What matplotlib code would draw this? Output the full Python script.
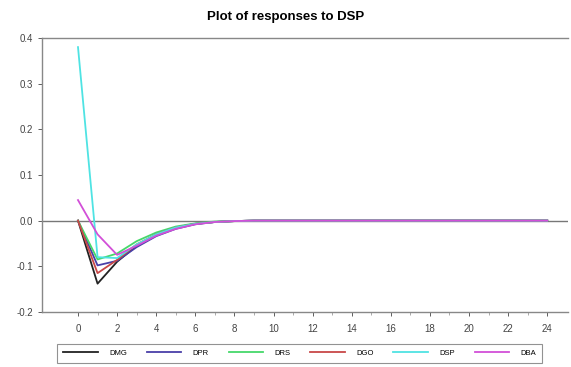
import numpy as np
import matplotlib
matplotlib.use("Agg")
import matplotlib.pyplot as plt

plt.rcParams['font.family'] = ['Liberation Sans Narrow', 'Liberation Sans', 'DejaVu Sans']

# impulse responses to a DSP shock, periods 0..24
periods = list(range(25))
tail = [0.0] * 16
DMG = [0.0, -0.138, -0.090, -0.055, -0.030, -0.015, -0.007, -0.003, -0.001] + tail
DPR = [0.0, -0.098, -0.088, -0.058, -0.034, -0.018, -0.008, -0.003, -0.001] + tail
DRS = [0.0, -0.085, -0.072, -0.045, -0.026, -0.013, -0.006, -0.002, -0.001] + tail
DGO = [0.0, -0.115, -0.086, -0.052, -0.030, -0.015, -0.007, -0.003, -0.001] + tail
DSP = [0.38, -0.080, -0.082, -0.052, -0.030, -0.015, -0.007, -0.003, -0.001] + tail
DBA = [0.045, -0.030, -0.075, -0.055, -0.033, -0.018, -0.008, -0.003, -0.001] + tail

series = [("DMG", DMG, "#222222"), ("DPR", DPR, "#4a3fa8"),
          ("DRS", DRS, "#45d86a"), ("DGO", DGO, "#c84848"),
          ("DSP", DSP, "#4fe3e3"), ("DBA", DBA, "#d24fd8")]

fig = plt.figure(figsize=(5.71, 3.67), dpi=100)
ax = fig.add_axes([0.0736, 0.150, 0.9214, 0.7465])

ax.axhline(0, color="#777777", lw=1.0, zorder=1)
for name, vals, col in series:
    ax.plot(periods, vals, color=col, lw=1.3, label=name, zorder=2)

ax.set_xlim(-1.84, 25.07)
ax.set_ylim(-0.2, 0.4)
ax.set_xticks(range(0, 25, 2))
ax.set_xticks(range(0, 25), minor=True)
ax.set_yticks([-0.2, -0.1, 0.0, 0.1, 0.2, 0.3, 0.4])
ax.set_yticklabels(["-0.2", "-0.1", "0.0", "0.1", "0.2", "0.3", "0.4"])
ax.tick_params(labelsize=7, colors="#444444", length=3, width=0.6)
ax.tick_params(which="minor", length=2, width=0.5, colors="#888888")
ax.tick_params(axis="x", pad=6)

for s in ["top", "left", "bottom"]:
    ax.spines[s].set_color("#888888")
    ax.spines[s].set_linewidth(1.0)
ax.spines["right"].set_visible(False)

fig.text(0.5, 0.953, "Plot of responses to DSP", ha="center", va="center",
         fontsize=9.5, fontweight="bold")

leg = fig.legend(loc="center", bbox_to_anchor=(0.525, 0.037), ncol=6,
                 fontsize=5.5, handlelength=4.5, columnspacing=2.6,
                 frameon=True, fancybox=False, borderpad=0.8, handletextpad=1.5)
leg.get_frame().set_edgecolor("#777777")
leg.get_frame().set_linewidth(0.8)

fig.savefig("out.png", dpi=100)
